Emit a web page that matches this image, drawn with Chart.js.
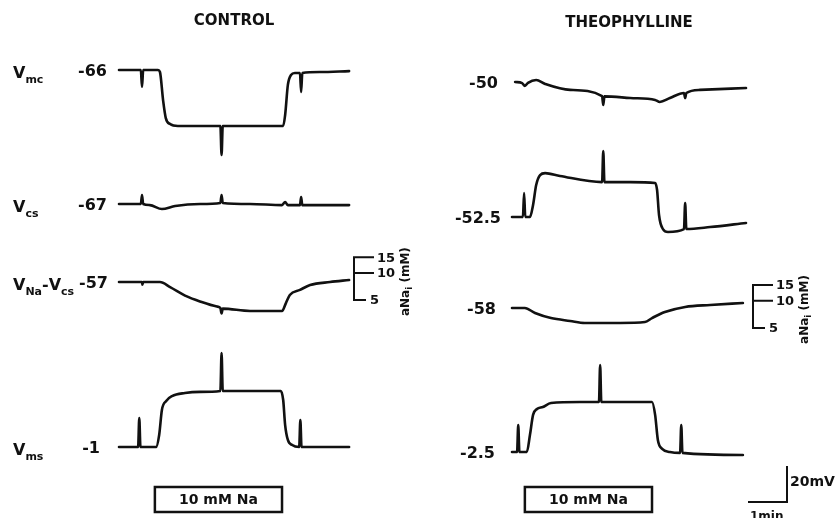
<!DOCTYPE html>
<html>
<head>
<meta charset="utf-8">
<script src="https://cdn.jsdelivr.net/npm/chart.js@4.4.1/dist/chart.umd.min.js"></script>
<style>
  html, body { margin: 0; padding: 0; background: #fff; }
  canvas { display: block; }
</style>
</head>
<body>
<canvas id="traces" width="837" height="518"></canvas>
<script>
// each record: [time in min from start of record, potential in mV]
const controlVmc = [[0,-66],[0.56,-66],[0.59,-75.4],[0.62,-66],[1.0,-66],[1.05,-67.1],[1.13,-82.7],[1.2,-92.7],[1.31,-96],[1.51,-97.1],[2.6,-97.1],[2.63,-113.2],[2.66,-97.1],[4.21,-97.1],[4.26,-91],[4.33,-74.3],[4.41,-68.8],[4.51,-67.7],[4.64,-67.7],[4.67,-78.2],[4.7,-67.7],[5.15,-67.1],[5.9,-66.6]];
const controlVcs = [[0,-67],[0.56,-67],[0.59,-62],[0.62,-67],[0.79,-67.6],[1.1,-69.8],[1.44,-68.1],[2.08,-67],[2.6,-66.4],[2.63,-62],[2.66,-66.4],[3.36,-67],[4.18,-67.6],[4.26,-65.9],[4.33,-67.6],[4.64,-67.6],[4.67,-63.1],[4.7,-67.6],[5.9,-67.6]];
const controlVnaVcs = [[0,-57],[0.59,-57],[0.6,-58.5],[0.62,-57],[1.05,-57],[1.31,-59.8],[1.74,-65],[2.08,-67.8],[2.51,-70.6],[2.6,-71.5],[2.63,-74.5],[2.66,-71.8],[3.36,-73.1],[4.18,-73.1],[4.28,-68.7],[4.38,-64.2],[4.64,-61.4],[4.9,-58.7],[5.41,-57],[5.9,-55.9]];
const controlVms = [[0,-1],[0.49,-1],[0.52,15.1],[0.55,-1],[0.95,-1],[1.03,5.7],[1.1,19.6],[1.21,24.6],[1.36,27.3],[1.69,29],[2.08,29.6],[2.6,30.1],[2.63,51.2],[2.66,30.1],[4.15,30.1],[4.21,25.1],[4.26,11.2],[4.33,2.9],[4.44,0.1],[4.62,-1],[4.65,14],[4.68,-1],[5.9,-1]];

const theoVmc = [[0.08,-50],[0.26,-50.6],[0.33,-52.2],[0.41,-50.5],[0.62,-48.9],[0.85,-51.1],[1.49,-54.4],[2.31,-57.8],[2.34,-62.8],[2.37,-58],[3.03,-58.9],[3.67,-60],[3.79,-61.1],[4.05,-58.9],[4.41,-56.1],[4.44,-58.9],[4.47,-56.1],[4.82,-54.4],[6.0,-53.3]];
const theoVcs = [[0,-52.5],[0.28,-52.5],[0.31,-39.2],[0.34,-52.5],[0.46,-52.5],[0.54,-45.8],[0.62,-34.7],[0.72,-29.2],[0.85,-28.1],[1.23,-29.7],[2.31,-33.1],[2.34,-15.8],[2.37,-33.1],[3.03,-33.1],[3.67,-33.6],[3.72,-37.5],[3.77,-51.4],[3.87,-59.2],[4.0,-60.8],[4.41,-59.2],[4.44,-44.7],[4.47,-59.2],[5.08,-58.1],[6.0,-55.8]];
const theoVnaVcs = [[0,-58],[0.33,-58],[0.59,-60.8],[1.0,-63.6],[1.49,-65.2],[1.87,-66.3],[2.77,-66.3],[3.41,-65.8],[3.59,-63.6],[3.92,-60.2],[4.44,-57.4],[5.08,-56.3],[5.92,-55.2]];
const theoVms = [[0,-2.5],[0.13,-2.5],[0.16,12.5],[0.19,-2.5],[0.38,-2.5],[0.46,6.9],[0.54,18.1],[0.64,21.4],[0.79,22.5],[1.0,24.7],[1.74,25.3],[2.23,25.3],[2.26,45.8],[2.29,25.3],[3.59,25.3],[3.67,18.1],[3.74,4.2],[3.85,-0.8],[4.05,-2.5],[4.31,-3],[4.34,12.5],[4.37,-3],[5.92,-4.2]];

// resting values shown at the left of each trace
const controlRest = [-66, -67, -57, -1];
const theoRest = [-50, -52.5, -58, -2.5];
// period of 10 mM Na (min)
const controlNa = [0.92, 4.18];
const theoNa = [0.33, 3.59];
// aNa_i calibration (mM), electrode slope mV/decade
const aNaTicks = [15, 10, 5];
const aNaSlope = 50;
const aNaRefMv = { control: -52, theo: -54 };

const rowNames = [[['V','mc']], [['V','cs']], [['V','Na'],['-',''],['V','cs']], [['V','ms']]];

// layout (pixels)
const W = 837, H = 518;
const pxPerMin = 39, pxPerMv = 1.8;
const ink = '#111';
const panels = [
  { key: 'control', title: 'CONTROL', traces: [controlVmc, controlVcs, controlVnaVcs, controlVms], rest: controlRest, na: controlNa,
    startPx: 119, rows: [70, 204, 282, 447], gaps: [12, 12, 11, 19], titleY: 21, bracketX: 354 },
  { key: 'theo', title: 'THEOPHYLLINE', traces: [theoVmc, theoVcs, theoVnaVcs, theoVms], rest: theoRest, na: theoNa,
    startPx: 512, rows: [82, 217, 308, 452], gaps: [14, 11, 16, 17], titleY: 23, bracketX: 753 }
];
const boxTop = 487, boxBottom = 512;
const calCorner = { x: 787, y: 502 };

const FONT = '"DejaVu Sans", sans-serif';

const scales = {};
const datasets = [];
panels.forEach(p => {
  scales['x_' + p.key] = { type: 'linear', display: false, min: -p.startPx / pxPerMin, max: (W - p.startPx) / pxPerMin };
  p.traces.forEach((tr, i) => {
    const id = 'y_' + p.key + i;
    scales[id] = { type: 'linear', display: false, min: p.rest[i] - (H - p.rows[i]) / pxPerMv, max: p.rest[i] + p.rows[i] / pxPerMv };
    datasets.push({
      data: tr.map(d => ({ x: d[0], y: d[1] })),
      xAxisID: 'x_' + p.key,
      yAxisID: id,
      borderColor: ink,
      borderWidth: 2.6,
      pointRadius: 0,
      cubicInterpolationMode: 'monotone',
      borderJoinStyle: 'round',
      borderCapStyle: 'round'
    });
  });
});

function drawName(ctx, parts, x, y) {
  ctx.textAlign = 'left';
  ctx.textBaseline = 'alphabetic';
  parts.forEach(([main, sub]) => {
    ctx.font = 'bold 16px ' + FONT;
    ctx.fillText(main, x, y + 8);
    x += ctx.measureText(main).width;
    if (sub) {
      ctx.font = 'bold 11px ' + FONT;
      ctx.fillText(sub, x, y + 13);
      x += ctx.measureText(sub).width;
    }
  });
}

const overlay = {
  id: 'overlay',
  afterDraw(chart) {
    const ctx = chart.ctx;
    ctx.save();
    ctx.fillStyle = ink;
    ctx.strokeStyle = ink;
    panels.forEach((p, pi) => {
      const xs = chart.scales['x_' + p.key];
      const t0 = xs.getPixelForValue(0);
      const tEnd = p.traces[0][p.traces[0].length - 1][0];

      // panel title
      ctx.font = 'bold 15px ' + FONT;
      ctx.textAlign = 'center';
      ctx.textBaseline = 'middle';
      ctx.fillText(p.title, xs.getPixelForValue(tEnd / 2), p.titleY);

      // resting values and row names
      p.rest.forEach((r, i) => {
        const ys = chart.scales['y_' + p.key + i];
        const y = ys.getPixelForValue(r);
        ctx.font = 'bold 16px ' + FONT;
        ctx.textAlign = 'right';
        ctx.textBaseline = 'middle';
        ctx.fillText(String(r), t0 - p.gaps[i], y + 2);
        if (pi === 0) drawName(ctx, rowNames[i], 13, y);
      });

      // 10 mM Na bar
      const bx0 = xs.getPixelForValue(p.na[0]), bx1 = xs.getPixelForValue(p.na[1]);
      ctx.lineWidth = 2.5;
      ctx.strokeRect(bx0, boxTop, bx1 - bx0, boxBottom - boxTop);
      ctx.font = 'bold 14px ' + FONT;
      ctx.textAlign = 'center';
      ctx.textBaseline = 'middle';
      ctx.fillText('10 mM Na', (bx0 + bx1) / 2, (boxTop + boxBottom) / 2 + 1);

      // aNa_i calibration bracket on the Na trace
      const yNa = chart.scales['y_' + p.key + 2];
      const tickY = aNaTicks.map(a => yNa.getPixelForValue(aNaRefMv[p.key] + aNaSlope * Math.log10(a / 10)));
      const bx = p.bracketX;
      ctx.lineWidth = 2;
      ctx.beginPath();
      ctx.moveTo(bx + 20, tickY[0]);
      ctx.lineTo(bx, tickY[0]);
      ctx.lineTo(bx, tickY[2]);
      ctx.lineTo(bx + 12, tickY[2]);
      ctx.moveTo(bx, tickY[1]);
      ctx.lineTo(bx + 20, tickY[1]);
      ctx.stroke();
      ctx.font = 'bold 13px ' + FONT;
      ctx.textAlign = 'left';
      ctx.textBaseline = 'middle';
      aNaTicks.forEach((a, k) => ctx.fillText(String(a), bx + (k === 2 ? 16 : 23), tickY[k] + 1));
      // rotated unit label
      ctx.save();
      ctx.translate(bx + 52, (tickY[0] + tickY[2]) / 2 + 3);
      ctx.rotate(-Math.PI / 2);
      ctx.textBaseline = 'middle';
      ctx.font = 'bold 12px ' + FONT;
      const wA = ctx.measureText('aNa').width;
      const wP = ctx.measureText(' (mM)').width;
      ctx.font = 'bold 9px ' + FONT;
      const wI = ctx.measureText('i').width;
      let lx = -(wA + wI + wP) / 2;
      ctx.font = 'bold 12px ' + FONT;
      ctx.fillText('aNa', lx, 0); lx += wA;
      ctx.font = 'bold 9px ' + FONT;
      ctx.fillText('i', lx, 4); lx += wI;
      ctx.font = 'bold 12px ' + FONT;
      ctx.fillText(' (mM)', lx, 0);
      ctx.restore();
    });

    // 20 mV / 1 min calibration
    const xs = chart.scales['x_theo'];
    const ys = chart.scales['y_theo3'];
    const vLen = ys.getPixelForValue(0) - ys.getPixelForValue(20);
    const hLen = xs.getPixelForValue(1) - xs.getPixelForValue(0);
    ctx.lineWidth = 2;
    ctx.beginPath();
    ctx.moveTo(calCorner.x, calCorner.y - vLen);
    ctx.lineTo(calCorner.x, calCorner.y);
    ctx.lineTo(calCorner.x - hLen, calCorner.y);
    ctx.stroke();
    ctx.font = 'bold 14px ' + FONT;
    ctx.textAlign = 'left';
    ctx.textBaseline = 'middle';
    ctx.fillText('20mV', calCorner.x + 3, calCorner.y - 20);
    ctx.font = 'bold 12px ' + FONT;
    ctx.textBaseline = 'top';
    ctx.fillText('1min', calCorner.x - hLen + 2, calCorner.y + 9);
    ctx.restore();
  }
};

new Chart(document.getElementById('traces'), {
  type: 'line',
  data: { datasets },
  options: {
    responsive: false,
    devicePixelRatio: 1,
    animation: false,
    layout: { padding: 0 },
    plugins: { legend: { display: false }, tooltip: { enabled: false } },
    scales
  },
  plugins: [overlay]
});
</script>
</body>
</html>
